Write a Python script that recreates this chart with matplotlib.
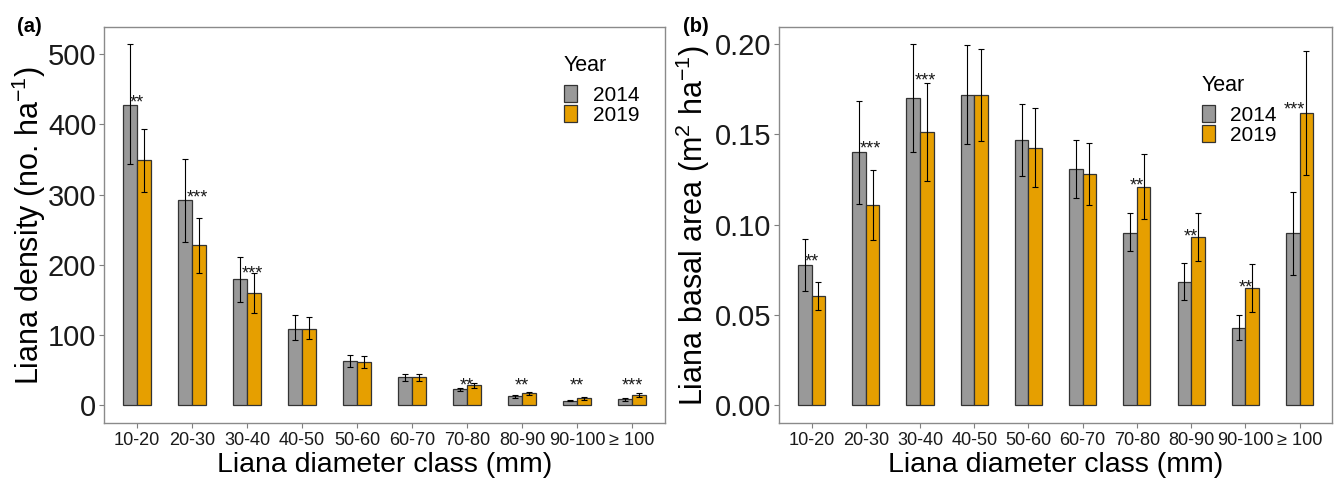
import numpy as np
import matplotlib.pyplot as plt
from matplotlib.patches import Patch

plt.rcParams['font.family'] = ['Liberation Sans', 'DejaVu Sans']
plt.rcParams['mathtext.fontset'] = 'custom'
plt.rcParams['mathtext.rm'] = 'Liberation Sans'
plt.rcParams['mathtext.it'] = 'Liberation Sans'

classes = ["10-20", "20-30", "30-40", "40-50", "50-60", "60-70", "70-80", "80-90", "90-100", "\u2265 100"]

# (a) liana density (no. ha-1)
dens_2014 = [428, 291.6, 179.5, 109, 63, 39.4, 22.8, 12.3, 6.2, 8.5]
dens_2014_lo = [343, 232, 147, 92.6, 54.6, 35, 20.4, 10.4, 5.2, 6.6]
dens_2014_hi = [514, 351, 211, 128, 71.7, 44.6, 24.7, 14.2, 7.1, 10.4]
dens_2019 = [349, 227.5, 159, 109, 60.8, 39.4, 28, 16.6, 9.5, 13.8]
dens_2019_lo = [304, 187.6, 130.6, 93.6, 52.2, 34.2, 24.2, 13.8, 7.6, 11.4]
dens_2019_hi = [394, 267, 187.6, 126, 70.2, 44.6, 31.8, 19, 11.4, 16.6]
dens_sig = ["**", "***", "***", "", "", "", "**", "**", "**", "***"]
dens_sig_y = [439, 304, 195, 0, 0, 0, 35.6, 35.6, 35.6, 35.6]

# (b) liana basal area (m2 ha-1)
ba_2014 = [0.0774, 0.140, 0.1699, 0.1719, 0.1468, 0.1309, 0.0955, 0.0683, 0.0425, 0.0953]
ba_2014_lo = [0.0630, 0.1114, 0.1404, 0.1446, 0.1269, 0.1147, 0.0851, 0.0582, 0.0358, 0.0722]
ba_2014_hi = [0.0918, 0.1686, 0.1998, 0.1994, 0.1668, 0.1470, 0.1062, 0.0785, 0.0497, 0.1182]
ba_2019 = [0.0604, 0.1106, 0.1511, 0.1717, 0.1426, 0.1278, 0.1208, 0.0931, 0.0648, 0.1616]
ba_2019_lo = [0.0525, 0.0912, 0.1239, 0.1463, 0.1206, 0.1106, 0.1029, 0.0796, 0.0513, 0.1273]
ba_2019_hi = [0.0683, 0.1300, 0.1782, 0.1970, 0.1645, 0.1452, 0.1389, 0.1066, 0.0783, 0.1961]
ba_sig = ["**", "***", "***", "", "", "", "**", "**", "**", "***"]
ba_sig_y = [0.0825, 0.1453, 0.1828, 0, 0, 0, 0.1247, 0.0966, 0.0683, 0.167]

grey = "#999999"
orange = "#E69F00"
x = np.arange(len(classes))
w = 0.25

fig = plt.figure(figsize=(13.36, 4.83), dpi=100)
ax1 = fig.add_axes([0.0778, 0.124, 0.42, 0.820])
ax2 = fig.add_axes([0.5831, 0.124, 0.414, 0.820])


def draw(ax, v14, lo14, hi14, v19, lo19, hi19, sig, sig_y, nudge):
    v14, v19 = np.array(v14), np.array(v19)
    ax.bar(x - w / 2, v14, w, color=grey, edgecolor="#333333", linewidth=0.9, zorder=2)
    ax.bar(x + w / 2, v19, w, color=orange, edgecolor="#333333", linewidth=0.9, zorder=2)
    ax.errorbar(x - w / 2, v14, yerr=[v14 - np.array(lo14), np.array(hi14) - v14],
                fmt="none", ecolor="black", elinewidth=0.8, capsize=2.2, capthick=0.8, zorder=3)
    ax.errorbar(x + w / 2, v19, yerr=[v19 - np.array(lo19), np.array(hi19) - v19],
                fmt="none", ecolor="black", elinewidth=0.8, capsize=2.2, capthick=0.8, zorder=3)
    for i, s in enumerate(sig):
        if s:
            ax.annotate(s, (x[i] + nudge[i], sig_y[i]), xytext=(0, -7.5), textcoords="offset points",
                        ha="center", va="baseline", fontsize=13, color="#1a1a1a", zorder=4)
    ax.set_xlim(-0.6, len(classes) - 0.4)
    ax.set_xticks(x)
    ax.set_xticklabels(classes)
    ax.tick_params(axis="x", labelsize=13.1, pad=3)
    ax.tick_params(axis="y", labelsize=21, pad=2)
    ax.tick_params(colors="#7f7f7f", length=3.5, width=0.8, labelcolor="#1a1a1a")
    for sp in ax.spines.values():
        sp.set_color("#8a8a8a")
        sp.set_linewidth(1.0)
    ax.set_xlabel("Liana diameter class (mm)", fontsize=20.5, labelpad=2)
    handles = [Patch(facecolor=grey, edgecolor="#333333", linewidth=0.9),
               Patch(facecolor=orange, edgecolor="#333333", linewidth=0.9)]
    return handles


def add_legend(ax, handles, anchor):
    leg = ax.legend(handles, ["2014", "2019"], title="Year", loc="upper left", bbox_to_anchor=anchor,
                    frameon=False, fontsize=15, title_fontsize=15.5, handlelength=0.62,
                    handleheight=0.92, labelspacing=0.0, handletextpad=0.75,
                    borderaxespad=0, borderpad=0)
    leg._legend_box.align = "left"
    leg._legend_box.sep = 6.5


nudge_a = [0, 0.09, 0.09, 0, 0, 0, 0, 0, 0, 0]
nudge_b = [0, 0.09, 0.1, 0, 0, 0, 0, 0, 0, -0.09]

h = draw(ax1, dens_2014, dens_2014_lo, dens_2014_hi, dens_2019, dens_2019_lo, dens_2019_hi,
         dens_sig, dens_sig_y, nudge_a)
ax1.set_ylim(-25.6, 538.5)
ax1.set_yticks([0, 100, 200, 300, 400, 500])
ax1.set_ylabel(r"Liana density (no. ha$^{-1}$)", fontsize=22, labelpad=0)
add_legend(ax1, h, (0.82, 0.93))

h = draw(ax2, ba_2014, ba_2014_lo, ba_2014_hi, ba_2019, ba_2019_lo, ba_2019_hi,
         ba_sig, ba_sig_y, nudge_b)
ax2.set_ylim(-0.00997, 0.2094)
ax2.set_yticks([0, 0.05, 0.10, 0.15, 0.20])
ax2.set_yticklabels(["0.00", "0.05", "0.10", "0.15", "0.20"])
ax2.set_ylabel(r"Liana basal area (m$^{2}$ ha$^{-1}$)", fontsize=22, labelpad=2)
add_legend(ax2, h, (0.764, 0.88))

fig.text(0.0127, 0.946, "(a)", fontsize=14.5, fontweight="bold", va="center")
fig.text(0.511, 0.946, "(b)", fontsize=14.5, fontweight="bold", va="center")

fig.savefig("out.png", dpi=100)
